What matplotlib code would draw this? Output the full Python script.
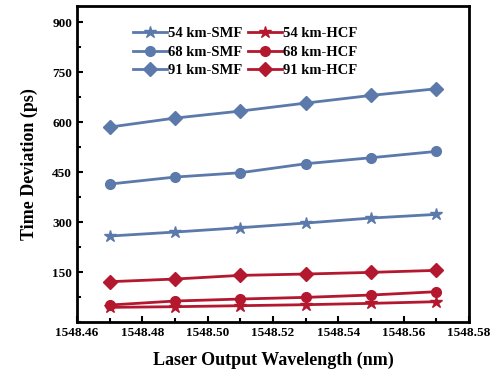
import matplotlib
matplotlib.use("Agg")
import matplotlib.pyplot as plt
from matplotlib.ticker import MultipleLocator, FormatStrFormatter

plt.rcParams['font.family'] = ['Liberation Serif', 'DejaVu Serif']
plt.rcParams['font.weight'] = 'bold'

wavelength = [1548.47, 1548.49, 1548.51, 1548.53, 1548.55, 1548.57]
smf_54 = [258, 270, 283, 297, 312, 323]
smf_68 = [414, 435, 448, 475, 493, 512]
smf_91 = [585, 612, 633, 657, 680, 700]
hcf_54 = [44, 46, 49, 52, 56, 61]
hcf_68 = [51, 63, 69, 74, 81, 91]
hcf_91 = [121, 129, 140, 144, 149, 155]

blue = '#5b79aa'
red = '#b3182e'

fig = plt.figure(figsize=(5, 3.82), dpi=100)
ax = fig.add_axes([0.154, 0.157, 0.784, 0.827])

ax.plot(wavelength, smf_54, color=blue, marker='*', ms=9, lw=2, label='54 km-SMF')
ax.plot(wavelength, smf_68, color=blue, marker='o', ms=7, lw=2, label='68 km-SMF')
ax.plot(wavelength, smf_91, color=blue, marker='D', ms=7, lw=2, label='91 km-SMF')
ax.plot(wavelength, hcf_54, color=red, marker='*', ms=9, lw=2, label='54 km-HCF')
ax.plot(wavelength, hcf_68, color=red, marker='o', ms=7, lw=2, label='68 km-HCF')
ax.plot(wavelength, hcf_91, color=red, marker='D', ms=7, lw=2, label='91 km-HCF')

ax.set_xlim(1548.46, 1548.58)
ax.set_ylim(0, 948)
ax.xaxis.set_major_locator(MultipleLocator(0.02))
ax.xaxis.set_minor_locator(MultipleLocator(0.01))
ax.xaxis.set_major_formatter(FormatStrFormatter('%.2f'))
ax.yaxis.set_major_locator(MultipleLocator(150))
ax.yaxis.set_minor_locator(MultipleLocator(75))
ax.set_yticks([150, 300, 450, 600, 750, 900])
ax.tick_params(which='both', direction='in', width=1.5, labelsize=9.5)
ax.tick_params(which='major', length=4)
ax.tick_params(which='minor', length=3)
for s in ax.spines.values():
    s.set_linewidth(2)

ax.set_xlabel('Laser Output Wavelength (nm)', fontsize=13, fontweight='bold', labelpad=9)
ax.set_ylabel('Time Deviation (ps)', fontsize=13, fontweight='bold', labelpad=10)

ax.legend(ncol=2, loc='upper left', bbox_to_anchor=(0.11, 0.975), frameon=False,
          fontsize=10.5, handlelength=2.3, handletextpad=0.1, columnspacing=0.4,
          labelspacing=0.35)

fig.savefig('out.png', dpi=100)
